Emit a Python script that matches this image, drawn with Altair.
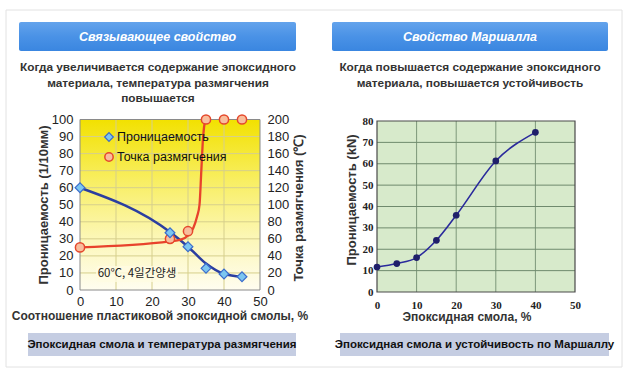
import altair as alt
import pandas as pd

# ---------------- data ----------------
# Left chart: epoxy ratio vs penetration / softening point
resin_pct = [0, 25, 30, 35, 40, 45]
penetration = [60, 33.6, 25.4, 12.7, 9.4, 7.8]
softening = [50, 60, 69, 200, 200, 200]
pen_curve_x = [0, 25, 30, 35, 40, 45]
pen_curve_y = [60, 34, 25.4, 15.5, 9.4, 7.8]
soft_curve_x = [0, 25, 28, 30, 31.5, 32.5, 33.2, 33.7, 34.2, 34.8]
soft_curve_y = [50, 57, 59, 64, 73, 86, 100, 140, 180, 200]
left_x_ticks = [0, 10, 20, 30, 40, 50]
left_y_ticks = list(range(0, 101, 10))
left_y2_ticks = list(range(0, 201, 20))
left_vgrid = [10, 20, 30, 40]
left_hgrid = list(range(10, 100, 10))

# Right chart: epoxy vs Marshall stability
marshall_x = [0, 5, 10, 15, 20, 30, 40]
marshall_y = [11.7, 13.3, 16.1, 24.2, 35.9, 61.3, 74.7]
right_x_ticks = [0, 10, 20, 30, 40, 50]
right_y_ticks = list(range(0, 81, 10))
right_vgrid = [10, 20, 30, 40]
right_hgrid = list(range(10, 80, 10))

FONT = "Liberation Sans"

# ---------------- scales ----------------
LX = alt.Scale(domain=[0, 50], range=[80, 260], nice=False, zero=False)
LY = alt.Scale(domain=[0, 100], range=[290, 119.5], nice=False)
LY2 = alt.Scale(domain=[0, 200], range=[290, 119.5], nice=False)
RX = alt.Scale(domain=[0, 50], range=[377, 575], nice=False, zero=False)
RY = alt.Scale(domain=[0, 80], range=[292, 121], nice=False)

dummy = pd.DataFrame({"d": [0]})
layers = []

# card
layers.append(alt.Chart(dummy).mark_rect(fill="white", stroke="#e2e2e2", strokeWidth=1).encode(
    x=alt.value(6), x2=alt.value(622), y=alt.value(10), y2=alt.value(367)))

banner_grad = alt.Gradient(gradient="linear", x1=0, x2=0, y1=0, y2=1, stops=[
    alt.GradientStop(color="#63a3ec", offset=0),
    alt.GradientStop(color="#4a92e6", offset=0.5),
    alt.GradientStop(color="#3a86e0", offset=1)])

def banner(x0, x1, label):
    r = alt.Chart(dummy).mark_rect(fill=banner_grad, cornerRadius=2).encode(
        x=alt.value(x0), x2=alt.value(x1), y=alt.value(22), y2=alt.value(51))
    t = alt.Chart(dummy).mark_text(text=label, font=FONT, fontSize=12.5, fontWeight="bold",
                                   fontStyle="italic", color="white", align="center",
                                   baseline="middle").encode(
        x=alt.value((x0 + x1) / 2), y=alt.value(37))
    return [r, t]

layers += banner(19, 296, "Связывающее свойство")
layers += banner(332, 608, "Свойство Маршалла")

def text_block(x, y, lines, size=12, weight="bold", color="#333"):
    return alt.Chart(dummy).mark_text(text=lines, font=FONT, fontSize=size, fontWeight=weight,
                                      color=color, align="center", baseline="middle",
                                      lineHeight=15.5).encode(x=alt.value(x), y=alt.value(y))

layers.append(text_block(158, 67, ["Когда увеличивается содержание эпоксидного",
                                   "материала, температура размягчения", "повышается"], size=11.8))
layers.append(text_block(470, 67, ["Когда повышается содержание эпоксидного",
                                   "материала, повышается устойчивость"], size=11.8))

# captions
cap_fill = "#c5cde2"
for x0, x1, label in [(28, 296, "Эпоксидная смола и температура размягчения"),
                      (340, 609, "Эпоксидная смола и устойчивость по Маршаллу")]:
    layers.append(alt.Chart(dummy).mark_rect(fill=cap_fill).encode(
        x=alt.value(x0), x2=alt.value(x1), y=alt.value(333), y2=alt.value(356)))
    layers.append(text_block((x0 + x1) / 2, 345, label, size=11.5, color="#111"))

# ---------------- left plot ----------------
yellow = alt.Gradient(gradient="linear", x1=0, x2=0, y1=0, y2=1, stops=[
    alt.GradientStop(color="#f2e100", offset=0),
    alt.GradientStop(color="#f8ee60", offset=0.35),
    alt.GradientStop(color="#fcf7b8", offset=0.7),
    alt.GradientStop(color="#fffdf0", offset=1)])
lframe = pd.DataFrame({"x0": [0], "x1": [50], "y0": [0], "y1": [100]})
rframe = pd.DataFrame({"x0": [0], "x1": [50], "y0": [0], "y1": [80]})
layers.append(alt.Chart(lframe).mark_rect(fill=yellow).encode(
    x=alt.X("x0:Q", scale=LX, axis=None), x2="x1:Q",
    y=alt.Y("y0:Q", scale=LY, axis=None), y2="y1:Q"))

vg = pd.DataFrame({"g": left_vgrid})
layers.append(alt.Chart(vg).mark_rule(color="#d6cf8c", strokeWidth=1).encode(
    x=alt.X("g:Q", scale=LX, axis=None),
    y=alt.Y(datum=0, type="quantitative", scale=LY, axis=None),
    y2=alt.Y2(datum=100)))
hg = pd.DataFrame({"g": left_hgrid})
layers.append(alt.Chart(hg).mark_rule(color="#d6cf8c", strokeWidth=1).encode(
    y=alt.Y("g:Q", scale=LY, axis=None),
    x=alt.X(datum=0, type="quantitative", scale=LX, axis=None),
    x2=alt.X2(datum=50)))
layers.append(alt.Chart(lframe).mark_rect(fill=None, stroke="#8a8a8a", strokeWidth=1).encode(
    x=alt.X("x0:Q", scale=LX, axis=None), x2="x1:Q",
    y=alt.Y("y0:Q", scale=LY, axis=None), y2="y1:Q"))

axis_common = dict(ticks=False, domain=False, grid=False, title=None, labelFont=FONT,
                   labelColor="#222", labelFontSize=13, zindex=2, labelFlush=False,
                   labelOverlap=False)

pen_curve = pd.DataFrame({"x": pen_curve_x, "y": pen_curve_y})
soft_curve = pd.DataFrame({"x": soft_curve_x, "y": soft_curve_y})
pts = pd.DataFrame({"x": resin_pct, "pen": penetration, "soft": softening})

# penetration line carries the left-plot x and left y axes
layers.append(alt.Chart(pen_curve).mark_line(color="#2b3ea0", strokeWidth=2.5,
                                             interpolate="monotone").encode(
    x=alt.X("x:Q", scale=LX, axis=alt.Axis(orient="bottom", offset=-88, values=left_x_ticks,
                                          labelPadding=5, **axis_common)),
    y=alt.Y("y:Q", scale=LY, axis=alt.Axis(orient="left", offset=-80, values=left_y_ticks,
                                          labelPadding=7, **axis_common))))
# softening curve carries the right y axis
layers.append(alt.Chart(soft_curve).mark_line(color="#e8432c", strokeWidth=2.3,
                                              interpolate="monotone").encode(
    x=alt.X("x:Q", scale=LX, axis=None),
    y=alt.Y("y:Q", scale=LY2, axis=alt.Axis(orient="right", offset=-368, values=left_y2_ticks,
                                           labelPadding=7, **axis_common))))
layers.append(alt.Chart(pts).mark_point(shape="circle", filled=True, fill="#f8bd9c",
                                        stroke="#e5482c", strokeWidth=1.5, size=85,
                                        opacity=1).encode(
    x=alt.X("x:Q", scale=LX, axis=None), y=alt.Y("soft:Q", scale=LY2, axis=None)))
layers.append(alt.Chart(pts).mark_point(shape="diamond", filled=True, fill="#7cc6f0",
                                        stroke="#3a6ccc", strokeWidth=1.2, size=95,
                                        opacity=1).encode(
    x=alt.X("x:Q", scale=LX, axis=None), y=alt.Y("pen:Q", scale=LY, axis=None)))

# legend
layers.append(alt.Chart(dummy).mark_point(shape="diamond", filled=True, fill="#7cc6f0",
                                          stroke="#3a6ccc", strokeWidth=1.2, size=75,
                                          opacity=1).encode(x=alt.value(109), y=alt.value(137)))
layers.append(alt.Chart(dummy).mark_point(shape="circle", filled=True, fill="#f8bd9c",
                                          stroke="#e5482c", strokeWidth=1.5, size=70,
                                          opacity=1).encode(x=alt.value(109), y=alt.value(157)))
for yy, lab in [(137, "Проницаемость"), (157, "Точка размягчения")]:
    layers.append(alt.Chart(dummy).mark_text(text=lab, font=FONT, fontSize=12.5, color="#111",
                                             align="left", baseline="middle").encode(
        x=alt.value(117), y=alt.value(yy)))

# note box
layers.append(alt.Chart(dummy).mark_rect(fill="#fffbe2", cornerRadius=3, opacity=0.8).encode(
    x=alt.value(96), x2=alt.value(178), y=alt.value(266), y2=alt.value(282)))
layers.append(alt.Chart(dummy).mark_text(text="60℃, 4일간양생", font="Noto Sans CJK KR",
                                         fontSize=11.5, color="#222", align="center",
                                         baseline="middle").encode(
    x=alt.value(137), y=alt.value(274)))

# left titles
layers.append(alt.Chart(dummy).mark_text(text="Проницаемость (1/10мм)", font=FONT, fontSize=13,
                                         fontWeight="bold", color="#333", angle=270,
                                         align="center", baseline="middle").encode(
    x=alt.value(44), y=alt.value(205)))
layers.append(alt.Chart(dummy).mark_text(text="Точка размягчения (℃)", font=FONT, fontSize=13,
                                         fontWeight="bold", color="#333", angle=270,
                                         align="center", baseline="middle").encode(
    x=alt.value(299), y=alt.value(208)))
layers.append(text_block(160, 316, "Соотношение пластиковой эпоксидной смолы, %", size=12))

# ---------------- right plot ----------------
layers.append(alt.Chart(rframe).mark_rect(fill="#d7eacb").encode(
    x=alt.X("x0:Q", scale=RX, axis=None), x2="x1:Q",
    y=alt.Y("y0:Q", scale=RY, axis=None), y2="y1:Q"))
rvg = pd.DataFrame({"g": right_vgrid})
layers.append(alt.Chart(rvg).mark_rule(color="#7d987a", strokeWidth=1).encode(
    x=alt.X("g:Q", scale=RX, axis=None),
    y=alt.Y(datum=0, type="quantitative", scale=RY, axis=None),
    y2=alt.Y2(datum=80)))
rhg = pd.DataFrame({"g": right_hgrid})
layers.append(alt.Chart(rhg).mark_rule(color="#6f8a6d", strokeWidth=1).encode(
    y=alt.Y("g:Q", scale=RY, axis=None),
    x=alt.X(datum=0, type="quantitative", scale=RX, axis=None),
    x2=alt.X2(datum=50)))
layers.append(alt.Chart(rframe).mark_rect(fill=None, stroke="#4a4a4a", strokeWidth=1.2).encode(
    x=alt.X("x0:Q", scale=RX, axis=None), x2="x1:Q",
    y=alt.Y("y0:Q", scale=RY, axis=None), y2="y1:Q"))

raxis = dict(ticks=False, domain=False, grid=False, title=None, labelFont="Liberation Serif",
             labelFontWeight="bold", labelColor="#222", labelFontSize=11, zindex=2,
             labelFlush=False, labelOverlap=False)
mdf = pd.DataFrame({"x": marshall_x, "y": marshall_y})
layers.append(alt.Chart(mdf).mark_line(color="#2a2a9c", strokeWidth=1.6,
                                       interpolate="monotone").encode(
    x=alt.X("x:Q", scale=RX, axis=alt.Axis(orient="bottom", offset=-86, values=right_x_ticks,
                                          labelPadding=7, **raxis)),
    y=alt.Y("y:Q", scale=RY, axis=alt.Axis(orient="left", offset=-377, values=right_y_ticks,
                                          labelPadding=4, **raxis))))
layers.append(alt.Chart(mdf).mark_point(shape="circle", filled=True, color="#1f1f6a",
                                        size=45, opacity=1).encode(
    x=alt.X("x:Q", scale=RX, axis=None), y=alt.Y("y:Q", scale=RY, axis=None)))

layers.append(alt.Chart(dummy).mark_text(text="Проницаемость (kN)", font=FONT, fontSize=13,
                                         fontWeight="bold", color="#333", angle=270,
                                         align="center", baseline="middle").encode(
    x=alt.value(352), y=alt.value(200)))
layers.append(text_block(467, 317, "Эпоксидная смола, %", size=12))

chart = alt.layer(*layers).resolve_scale(x="independent", y="independent").resolve_axis(
    x="independent", y="independent").properties(
    width=628, height=378, autosize=alt.AutoSizeParams(type="none"), padding=0,
    background="white").configure_view(strokeWidth=0)

chart.save("out.html", embed_options={"renderer": "svg", "actions": False})
